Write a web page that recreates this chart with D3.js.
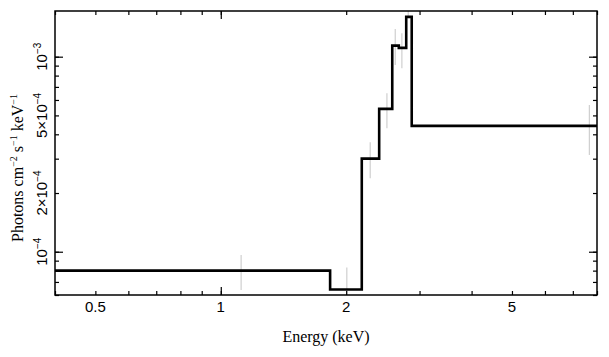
<!DOCTYPE html>
<html>
<head>
<meta charset="utf-8">
<script src="https://cdn.jsdelivr.net/npm/d3@7"></script>
<style>
  body { margin: 0; background: #fff; }
</style>
</head>
<body>
<script>
// Model bins (keV) and folded model values
const binLo = [0.4, 1.83, 2.18, 2.40, 2.58, 2.675, 2.787, 2.873];
const binHi = [1.83, 2.18, 2.40, 2.58, 2.675, 2.787, 2.873, 8.0];
const modelVal = [8.0e-5, 6.4e-5, 3.0e-4, 5.4e-4, 1.14e-3, 1.11e-3, 1.6e-3, 4.42e-4];

// Data points: energy and error bar range
const dataE = [1.119, 2.007, 2.284, 2.505, 2.623, 2.721, 2.818, 7.67];
const dataLo = [6.37e-5, 5.0e-5, 2.38e-4, 4.30e-4, 9.07e-4, 8.72e-4, 1.58e-3, 3.13e-4];
const dataHi = [9.62e-5, 8.3e-5, 3.64e-4, 6.49e-4, 1.387e-3, 1.318e-3, 2.0e-3, 5.65e-4];

// Ticks
const xTicks = [0.4, 0.5, 0.6, 0.7, 0.8, 0.9, 1, 2, 3, 4, 5, 6, 7, 8];
const xMajor = [1];
const xLabels = [0.5, 1, 2, 5];
const yTicks = [6e-5, 7e-5, 8e-5, 9e-5, 1e-4, 2e-4, 3e-4, 4e-4, 5e-4, 6e-4, 7e-4, 8e-4, 9e-4, 1e-3];
const yMajor = [1e-4, 1e-3];
const yLabels = [
  { v: 1e-4, m: "", e: "\u22124" },
  { v: 2e-4, m: "2\u00d7", e: "\u22124" },
  { v: 5e-4, m: "5\u00d7", e: "\u22124" },
  { v: 1e-3, m: "", e: "\u22123" }
];

const W = 609, H = 357;
const margin = { left: 55, right: 12, top: 11, bottom: 62 };
const sans = "'Liberation Sans', Arial, sans-serif";
const serif = "'Liberation Serif', 'Times New Roman', serif";

const svg = d3.select("body").append("svg")
  .attr("width", W)
  .attr("height", H);

const x = d3.scaleLog().domain([0.4, 8]).range([margin.left, W - margin.right]);
const y = d3.scaleLog().domain([6e-5, 1.715e-3]).range([H - margin.bottom, margin.top]);

svg.append("clipPath").attr("id", "plotclip")
  .append("rect")
  .attr("x", margin.left).attr("y", margin.top)
  .attr("width", W - margin.left - margin.right)
  .attr("height", H - margin.top - margin.bottom);

const plot = svg.append("g").attr("clip-path", "url(#plotclip)");

// Error bars
plot.selectAll(".err")
  .data(dataE)
  .enter()
  .append("line")
  .attr("class", "err")
  .attr("x1", d => x(d))
  .attr("x2", d => x(d))
  .attr("y1", (d, i) => y(dataLo[i]))
  .attr("y2", (d, i) => y(dataHi[i]))
  .attr("stroke", "#cfcfcf")
  .attr("stroke-width", 1.2);

// Model step line
const stepPts = [];
for (let i = 0; i < binLo.length; i++) {
  stepPts.push([binLo[i], modelVal[i]]);
  stepPts.push([binHi[i], modelVal[i]]);
}
plot.append("path")
  .datum(stepPts)
  .attr("fill", "none")
  .attr("stroke", "#000")
  .attr("stroke-width", 2.6)
  .attr("stroke-linejoin", "miter")
  .attr("d", d3.line().x(d => x(d[0])).y(d => y(d[1])));

// Axes: ticks on all four sides, pointing inward
function addTicks(axis, values, size, transform) {
  const g = svg.append("g")
    .attr("transform", transform)
    .call(axis.tickValues(values).tickSize(-size).tickFormat(""));
  g.select(".domain").remove();
  g.selectAll("line").attr("stroke", "#000").attr("stroke-width", 1.2);
  return g;
}
const bottomY = H - margin.bottom, rightX = W - margin.right;
addTicks(d3.axisBottom(x), xTicks, 4, `translate(0,${bottomY})`);
addTicks(d3.axisBottom(x), xMajor, 8, `translate(0,${bottomY})`);
addTicks(d3.axisTop(x), xTicks, 4, `translate(0,${margin.top})`);
addTicks(d3.axisTop(x), xMajor, 8, `translate(0,${margin.top})`);
addTicks(d3.axisLeft(y), yTicks, 4, `translate(${margin.left},0)`);
addTicks(d3.axisLeft(y), yMajor, 8, `translate(${margin.left},0)`);
addTicks(d3.axisRight(y), yTicks, 4, `translate(${rightX},0)`);
addTicks(d3.axisRight(y), yMajor, 8, `translate(${rightX},0)`);

// Frame
svg.append("rect")
  .attr("x", margin.left).attr("y", margin.top)
  .attr("width", W - margin.left - margin.right)
  .attr("height", H - margin.top - margin.bottom)
  .attr("fill", "none")
  .attr("stroke", "#000")
  .attr("stroke-width", 1.5);

// X tick labels
svg.append("g").selectAll("text")
  .data(xLabels)
  .enter()
  .append("text")
  .attr("x", d => x(d))
  .attr("y", bottomY + 17)
  .attr("text-anchor", "middle")
  .attr("font-family", sans)
  .attr("font-size", "15px")
  .text(d => d);

// Y tick labels (rotated, with superscripts)
const yl = svg.append("g").selectAll("text")
  .data(yLabels)
  .enter()
  .append("text")
  .attr("transform", d => `translate(47,${y(d.v)}) rotate(-90)`)
  .attr("text-anchor", "middle")
  .attr("font-family", sans)
  .attr("font-size", "15px");
yl.append("tspan").text(d => d.m + "10");
yl.append("tspan").attr("dy", -6).attr("font-size", "10px").text(d => d.e);

// Axis titles
svg.append("text")
  .attr("x", (margin.left + rightX) / 2)
  .attr("y", 342)
  .attr("text-anchor", "middle")
  .attr("font-family", serif)
  .attr("font-size", "16px")
  .text("Energy (keV)");

const yt = svg.append("text")
  .attr("transform", `translate(23,168) rotate(-90)`)
  .attr("text-anchor", "middle")
  .attr("font-family", serif)
  .attr("font-size", "16px");
const parts = [["Photons cm", false], ["\u22122", true], [" s", false], ["\u22121", true], [" keV", false], ["\u22121", true]];
parts.forEach(p => {
  const t = yt.append("tspan").text(p[0]);
  if (p[1]) t.attr("font-size", "10px").attr("dy", -6);
  else t.attr("dy", 6);
});
yt.select("tspan").attr("dy", 0);
</script>
</body>
</html>
